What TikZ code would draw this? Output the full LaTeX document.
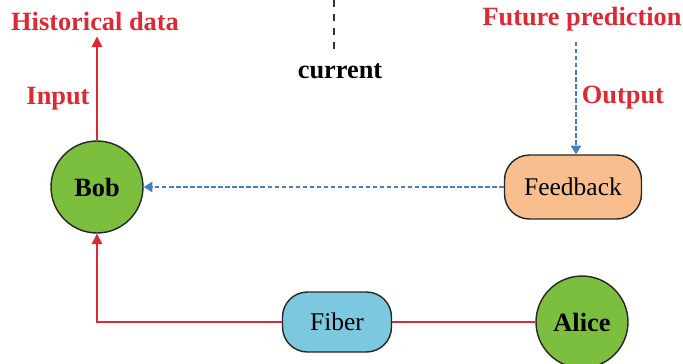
\documentclass[tikz,border=0pt]{standalone}
\usepackage{fontspec}
\setmainfont{Liberation Serif}
\usetikzlibrary{arrows.meta}
\definecolor{linered}{RGB}{222,40,52}
\definecolor{lineblue}{RGB}{66,128,198}
\definecolor{nodegreen}{RGB}{124,190,62}
\definecolor{fbfill}{RGB}{248,190,142}
\definecolor{fiberfill}{RGB}{124,200,222}
\tikzset{
    party/.style={circle,draw=black!85,thick,fill=nodegreen,minimum size=1.84cm,inner sep=0pt,font=\fontsize{15}{17}\selectfont\bfseries},
    pill/.style={rounded corners=0.5cm,draw=black!85,thick,inner sep=0pt,font=\fontsize{14.5}{17}\selectfont},
    redlabel/.style={text=linered,font=\fontsize{15}{18}\selectfont\bfseries},
    redline/.style={draw=linered,thick},
    blueline/.style={draw=lineblue,thick,dash pattern=on 2.5pt off 1.5pt,-{Triangle[length=5pt,width=6pt]}}
}
\begin{document}
\begin{tikzpicture}[x=0.02cm,y=-0.02cm]
        \useasboundingbox (0,0) rectangle (683,363);
        % nodes
        \node[party] (bob) at (97,187) {Bob};
        \node[party] (alice) at (582,322) {Alice};
        \node[pill,fill=fiberfill,minimum width=2.18cm,minimum height=1.2cm] (fiber) at (337,322) {Fiber};
        \node[pill,fill=fbfill,minimum width=2.74cm,minimum height=1.28cm] (feedback) at (573,187) {Feedback};
        % labels
        \node[redlabel] (hist) at (95,21) {Historical data};
        \node[redlabel] (input) at (58,99) {Input};
        \node[redlabel] (future) at (582,19) {Future prediction};
        \node[redlabel] (output) at (623,98) {Output};
        \node[font=\fontsize{15}{18}\selectfont\bfseries] (current) at (340,71) {current};
        \coordinate (ctop) at (334,0);
        \coordinate (cbot) at (334,50);
        \coordinate (ftop) at (576,42);
        % connectors
        \draw[black!80,thick,dash pattern=on 4pt off 4pt] (ctop) -- (cbot);
        \draw[redline,-{Triangle[length=6pt,width=6pt]}] (bob.north) -- (bob.north|-hist.south);
        \draw[redline] (fiber) -- (alice);
        \draw[redline,-{Triangle[length=6pt,width=6pt]}] (fiber.west) -| (bob.south);
        \draw[blueline] (ftop) -- (ftop|-feedback.north);
        \draw[blueline] (feedback) -- (bob);
    \end{tikzpicture}
\end{document}
